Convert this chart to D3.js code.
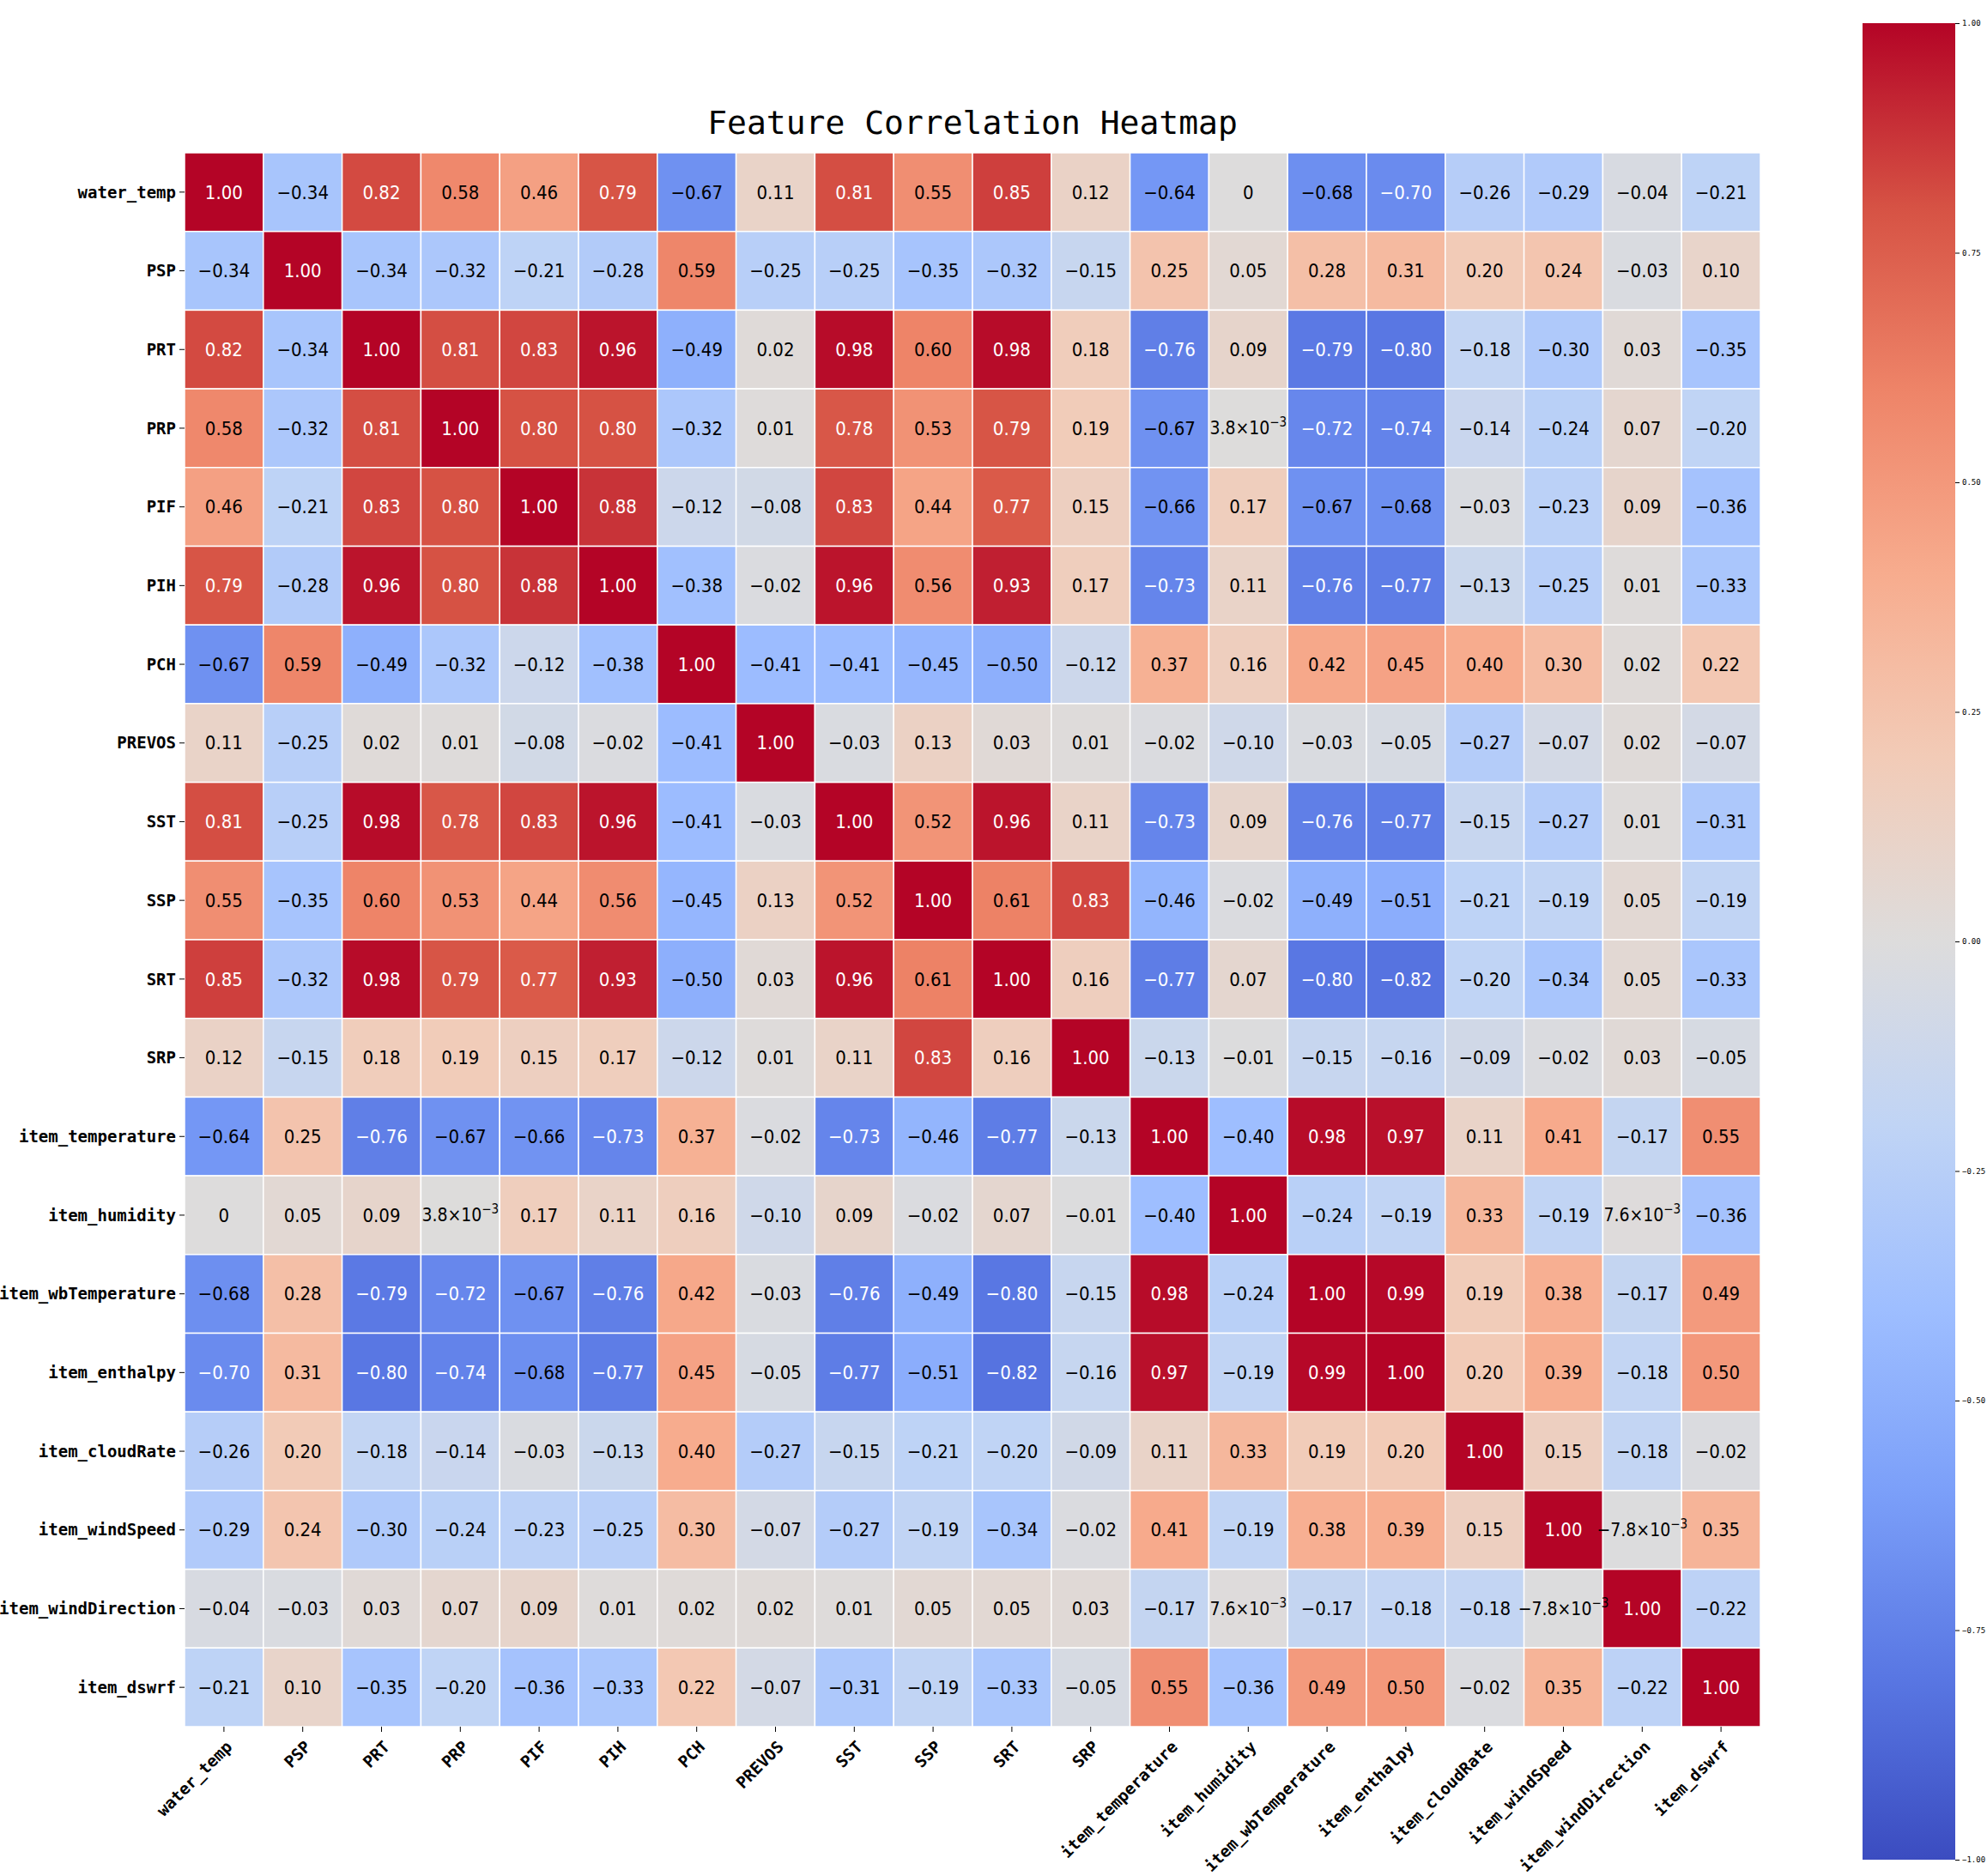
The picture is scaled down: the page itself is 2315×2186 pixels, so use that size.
<!DOCTYPE html>
<html><head><meta charset="utf-8">
<script src="https://cdn.jsdelivr.net/npm/d3@7"></script>
<style>body{margin:0;background:#fff}</style></head>
<body><svg id="c" width="2315" height="2186"></svg>
<script>
const labels=["water_temp","PSP","PRT","PRP","PIF","PIH","PCH","PREVOS","SST","SSP","SRT","SRP","item_temperature","item_humidity","item_wbTemperature","item_enthalpy","item_cloudRate","item_windSpeed","item_windDirection","item_dswrf"];
const r_water_temp=[1,-0.34,0.82,0.58,0.46,0.79,-0.67,0.11,0.81,0.55,0.85,0.12,-0.64,0,-0.68,-0.70,-0.26,-0.29,-0.04,-0.21];
const r_PSP=[-0.34,1,-0.34,-0.32,-0.21,-0.28,0.59,-0.25,-0.25,-0.35,-0.32,-0.15,0.25,0.05,0.28,0.31,0.20,0.24,-0.03,0.10];
const r_PRT=[0.82,-0.34,1,0.81,0.83,0.96,-0.49,0.02,0.98,0.60,0.98,0.18,-0.76,0.09,-0.79,-0.80,-0.18,-0.30,0.03,-0.35];
const r_PRP=[0.58,-0.32,0.81,1,0.80,0.80,-0.32,0.01,0.78,0.53,0.79,0.19,-0.67,0.0038,-0.72,-0.74,-0.14,-0.24,0.07,-0.20];
const r_PIF=[0.46,-0.21,0.83,0.80,1,0.88,-0.12,-0.08,0.83,0.44,0.77,0.15,-0.66,0.17,-0.67,-0.68,-0.03,-0.23,0.09,-0.36];
const r_PIH=[0.79,-0.28,0.96,0.80,0.88,1,-0.38,-0.02,0.96,0.56,0.93,0.17,-0.73,0.11,-0.76,-0.77,-0.13,-0.25,0.01,-0.33];
const r_PCH=[-0.67,0.59,-0.49,-0.32,-0.12,-0.38,1,-0.41,-0.41,-0.45,-0.50,-0.12,0.37,0.16,0.42,0.45,0.40,0.30,0.02,0.22];
const r_PREVOS=[0.11,-0.25,0.02,0.01,-0.08,-0.02,-0.41,1,-0.03,0.13,0.03,0.01,-0.02,-0.10,-0.03,-0.05,-0.27,-0.07,0.02,-0.07];
const r_SST=[0.81,-0.25,0.98,0.78,0.83,0.96,-0.41,-0.03,1,0.52,0.96,0.11,-0.73,0.09,-0.76,-0.77,-0.15,-0.27,0.01,-0.31];
const r_SSP=[0.55,-0.35,0.60,0.53,0.44,0.56,-0.45,0.13,0.52,1,0.61,0.83,-0.46,-0.02,-0.49,-0.51,-0.21,-0.19,0.05,-0.19];
const r_SRT=[0.85,-0.32,0.98,0.79,0.77,0.93,-0.50,0.03,0.96,0.61,1,0.16,-0.77,0.07,-0.80,-0.82,-0.20,-0.34,0.05,-0.33];
const r_SRP=[0.12,-0.15,0.18,0.19,0.15,0.17,-0.12,0.01,0.11,0.83,0.16,1,-0.13,-0.01,-0.15,-0.16,-0.09,-0.02,0.03,-0.05];
const r_temp=[-0.64,0.25,-0.76,-0.67,-0.66,-0.73,0.37,-0.02,-0.73,-0.46,-0.77,-0.13,1,-0.40,0.98,0.97,0.11,0.41,-0.17,0.55];
const r_hum=[0,0.05,0.09,0.0038,0.17,0.11,0.16,-0.10,0.09,-0.02,0.07,-0.01,-0.40,1,-0.24,-0.19,0.33,-0.19,0.0076,-0.36];
const r_wb=[-0.68,0.28,-0.79,-0.72,-0.67,-0.76,0.42,-0.03,-0.76,-0.49,-0.80,-0.15,0.98,-0.24,1,0.99,0.19,0.38,-0.17,0.49];
const r_enth=[-0.70,0.31,-0.80,-0.74,-0.68,-0.77,0.45,-0.05,-0.77,-0.51,-0.82,-0.16,0.97,-0.19,0.99,1,0.20,0.39,-0.18,0.50];
const r_cloud=[-0.26,0.20,-0.18,-0.14,-0.03,-0.13,0.40,-0.27,-0.15,-0.21,-0.20,-0.09,0.11,0.33,0.19,0.20,1,0.15,-0.18,-0.02];
const r_wind=[-0.29,0.24,-0.30,-0.24,-0.23,-0.25,0.30,-0.07,-0.27,-0.19,-0.34,-0.02,0.41,-0.19,0.38,0.39,0.15,1,-0.0078,0.35];
const r_wdir=[-0.04,-0.03,0.03,0.07,0.09,0.01,0.02,0.02,0.01,0.05,0.05,0.03,-0.17,0.0076,-0.17,-0.18,-0.18,-0.0078,1,-0.22];
const r_dswrf=[-0.21,0.10,-0.35,-0.20,-0.36,-0.33,0.22,-0.07,-0.31,-0.19,-0.33,-0.05,0.55,-0.36,0.49,0.50,-0.02,0.35,-0.22,1];
const rows=[r_water_temp,r_PSP,r_PRT,r_PRP,r_PIF,r_PIH,r_PCH,r_PREVOS,r_SST,r_SSP,r_SRT,r_SRP,r_temp,r_hum,r_wb,r_enth,r_cloud,r_wind,r_wdir,r_dswrf];
const cbTicks=[1,0.75,0.5,0.25,0,-0.25,-0.5,-0.75,-1];

const stops=["#3b4cc0","#5977e3","#7b9ff9","#9ebeff","#c0d4f5","#dddcdc","#f2cbb7","#f7ac8e","#ee8468","#d65244","#b40426"];
const color=d3.scaleLinear().domain(d3.range(11).map(i=>-1+i*0.2)).range(stops).interpolate(d3.interpolateRgb);
const F="'DejaVu Sans Mono', monospace";
const FC="'DejaVu Sans Condensed','DejaVu Sans', sans-serif";
const svg=d3.select("#c");
const L=215,R=2051,T=178,B=2012;
const x=d3.scaleBand().domain(labels).range([L,R]);
const y=d3.scaleBand().domain(labels).range([T,B]);
const cells=[];rows.forEach((r,i)=>r.forEach((v,j)=>cells.push({i,j,v})));
svg.append("g").selectAll("rect").data(cells).join("rect")
 .attr("x",d=>x(labels[d.j])).attr("y",d=>y(labels[d.i]))
 .attr("width",x.bandwidth()).attr("height",y.bandwidth())
 .attr("fill",d=>color(d.v)).attr("stroke","#fff").attr("stroke-width",1.5);
const tg=svg.append("g");
cells.forEach(d=>{
 const cx=x(labels[d.j])+x.bandwidth()/2, cy=y(labels[d.i])+y.bandwidth()/2;
 const t=tg.append("text").attr("x",cx).attr("y",cy).attr("dy","0.35em").attr("text-anchor","middle")
   .attr("font-family",FC).attr("fill",Math.abs(d.v)>=0.695?"#fff":"#000");
 if(d.v!==0&&Math.abs(d.v)<0.01){
   const e=Math.floor(Math.log10(Math.abs(d.v)));const m=(d.v/Math.pow(10,e)).toFixed(1).replace("-","−");
   t.attr("font-size",21).attr("font-family",FC);
   t.append("tspan").text(m+"×10");
   t.append("tspan").attr("font-size",15).attr("dy","-0.6em").text("−"+Math.abs(e));
 } else {
   t.attr("font-size",22).text(d.v===0?"0":d.v.toFixed(2).replace("-","−"));
 }
});
const ya=svg.append("g");
labels.forEach(l=>{const cy=y(l)+y.bandwidth()/2;
 ya.append("line").attr("x1",L-6).attr("x2",L).attr("y1",cy).attr("y2",cy).attr("stroke","#000");
 ya.append("text").attr("x",L-10).attr("y",cy).attr("dy","0.35em").attr("text-anchor","end").attr("font-family",F).attr("font-size",19).attr("font-weight","bold").text(l);});
const xa=svg.append("g");
labels.forEach(l=>{const cx=x(l)+x.bandwidth()/2;
 xa.append("line").attr("x1",cx).attr("x2",cx).attr("y1",B).attr("y2",B+6).attr("stroke","#000");
 xa.append("text").attr("transform",`translate(${cx+6},${B+20}) rotate(-45)`).attr("text-anchor","end").attr("dy","0.35em").attr("font-family",F).attr("font-size",19).attr("font-weight","bold").text(l);});
svg.append("text").attr("x",(L+R)/2).attr("y",156).attr("text-anchor","middle").attr("font-family",F).attr("font-size",38).text("Feature Correlation Heatmap");
const cbX=2170,cbW=108,cbT=27,cbB=2167;
const defs=svg.append("defs");const gr=defs.append("linearGradient").attr("id","g").attr("x1",0).attr("x2",0).attr("y1",1).attr("y2",0);
d3.range(0,1.0001,0.05).forEach(p=>gr.append("stop").attr("offset",p).attr("stop-color",color(-1+2*p)));
svg.append("rect").attr("x",cbX).attr("y",cbT).attr("width",cbW).attr("height",cbB-cbT).attr("fill","url(#g)");
const cy=d3.scaleLinear().domain([-1,1]).range([cbB,cbT]);
const cbAxis=svg.append("g").attr("transform",`translate(${cbX+cbW},0)`).call(d3.axisRight(cy).tickValues(cbTicks).tickSize(5).tickFormat(v=>d3.format(".2f")(v).replace("-","−")));
cbAxis.select(".domain").remove();
cbAxis.selectAll("text").attr("font-family",F).attr("font-size",9);
</script></body></html>
